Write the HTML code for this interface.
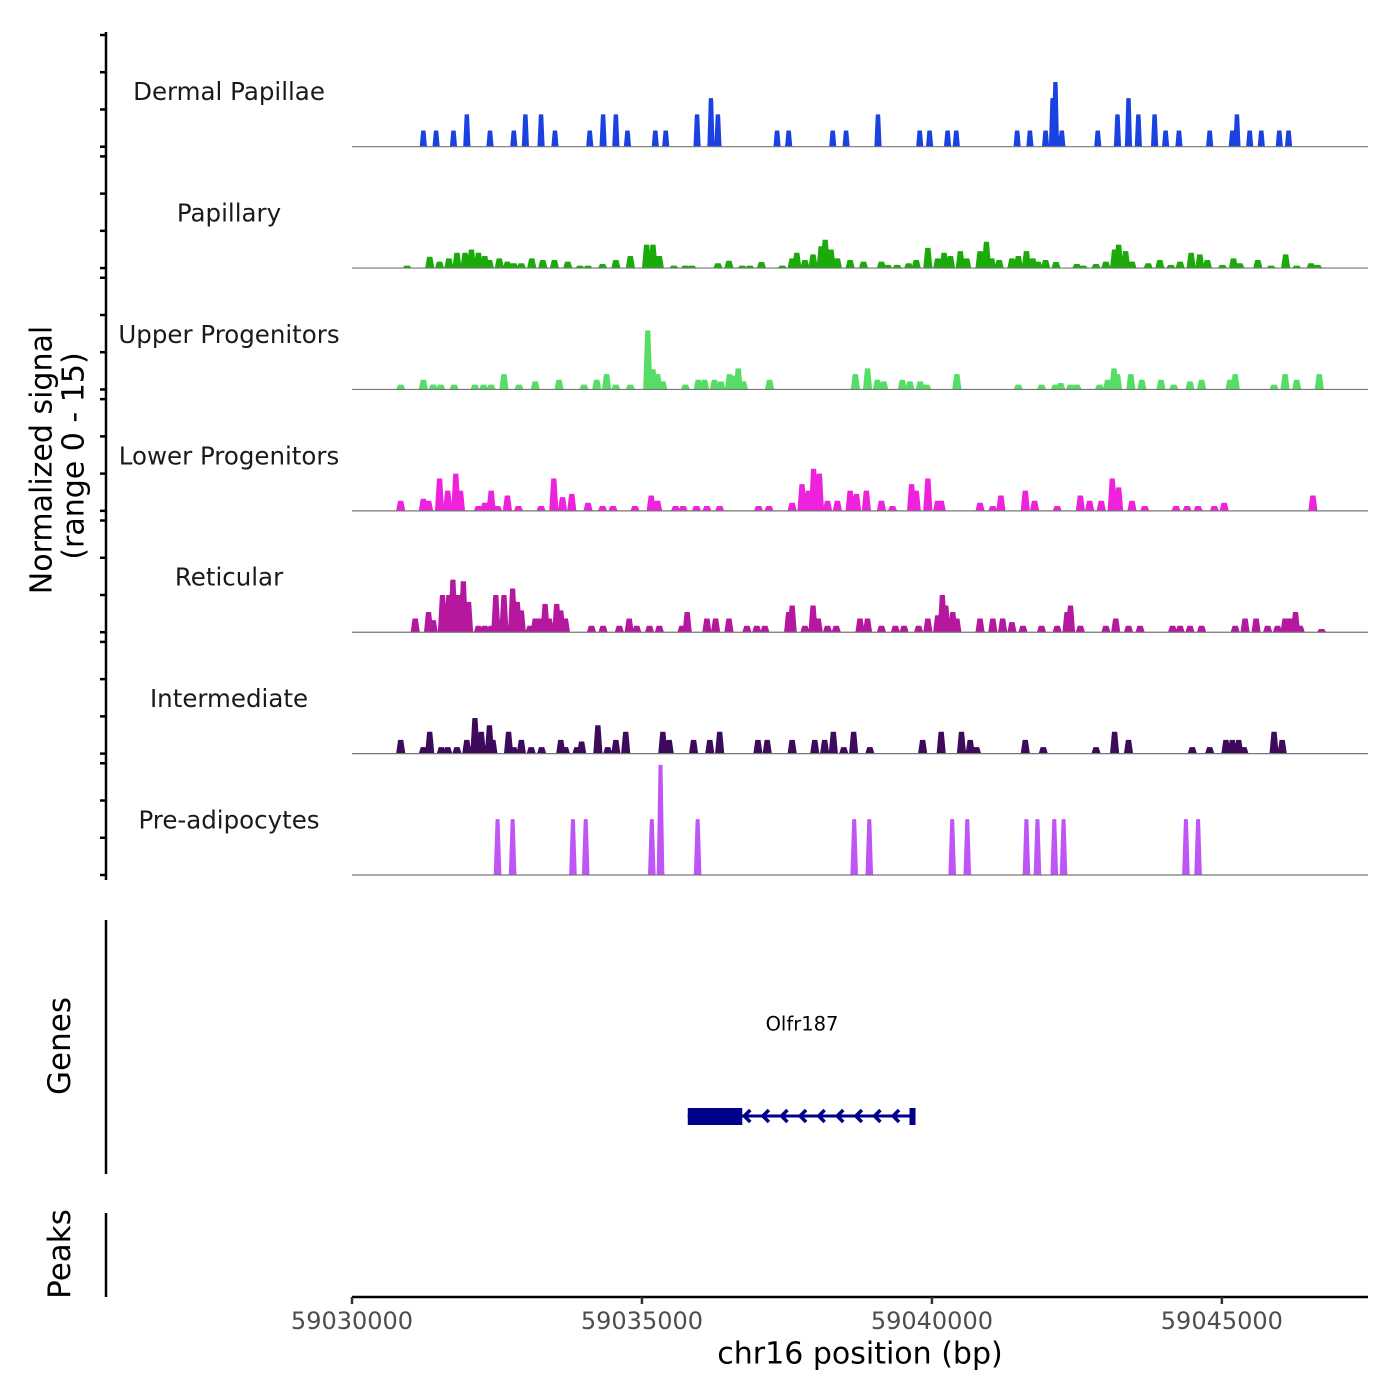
<!DOCTYPE html>
<html><head><meta charset="utf-8">
<style>
html,body{margin:0;padding:0;background:#fff;}
svg{display:block;font-family:"DejaVu Sans","Liberation Sans",sans-serif;}
</style></head>
<body>
<svg id="chart" width="1400" height="1400" viewBox="0 0 1400 1400">
<rect width="1400" height="1400" fill="#fff"/>
<g id="tracks"></g>
<g id="labels"></g>
<g id="yaxis"></g>
<text x="42" y="460" font-size="30" fill="#000" text-anchor="middle" dominant-baseline="central" transform="rotate(-90 42 460)">Normalized signal</text>
<text x="74" y="456" font-size="30" fill="#000" text-anchor="middle" dominant-baseline="central" transform="rotate(-90 74 456)">(range 0 - 15)</text>
<line x1="106" y1="920" x2="106" y2="1174" stroke="#000" stroke-width="2.5"/>
<text x="60" y="1046" font-size="31" text-anchor="middle" dominant-baseline="central" transform="rotate(-90 60 1046)">Genes</text>
<line x1="106" y1="1213" x2="106" y2="1297" stroke="#000" stroke-width="2.5"/>
<text x="60" y="1254" font-size="31" text-anchor="middle" dominant-baseline="central" transform="rotate(-90 60 1254)">Peaks</text>
<g id="gene"></g>
<g id="xaxis"></g>
<text x="860" y="1354" font-size="30" text-anchor="middle" dominant-baseline="central">chr16 position (bp)</text>
</svg>
<script>
const NS="http://www.w3.org/2000/svg";
const xStart=59030000, xEnd=59047520;
const xTicks=[59030000,59035000,59040000,59045000];
const trackNames=["Dermal Papillae","Papillary","Upper Progenitors","Lower Progenitors","Reticular","Intermediate","Pre-adipocytes"];
const trackColors=["#1a42e0","#1aaa0a","#55dd66","#ee22dd","#b5179e","#3d0a5c","#bf55f5"];
// positions in kb offset from 59030000, heights in signal units
const dermalPos=[1.23,1.45,1.75,1.98,2.38,2.79,2.99,3.26,3.50,4.10,4.33,4.55,4.75,5.23,5.41,5.95,6.19,6.31,7.33,7.53,8.29,8.52,9.07,9.79,9.96,10.27,10.42,11.47,11.69,11.96,12.08,12.13,12.24,12.86,13.20,13.39,13.56,13.84,14.03,14.26,14.79,15.18,15.26,15.48,15.68,15.99,16.15];
const dermalVal=[2,2,2,4,2,2,4,4,2,2,4,4,2,2,2,4,6,4,2,2,2,2,4,2,2,2,2,2,2,2,6,8,2,2,4,6,4,4,2,2,2,2,4,2,2,2,2];
const papPos=[0.95,1.34,1.51,1.67,1.81,1.95,2.06,2.18,2.29,2.37,2.54,2.68,2.79,2.92,3.10,3.29,3.49,3.72,3.93,4.07,4.32,4.55,4.80,5.08,5.19,5.30,5.55,5.75,5.86,6.31,6.50,6.73,6.86,7.06,7.42,7.59,7.67,7.81,7.95,8.09,8.16,8.26,8.37,8.59,8.82,9.13,9.24,9.40,9.60,9.73,9.93,10.10,10.21,10.32,10.49,10.60,10.83,10.94,11.03,11.16,11.38,11.49,11.63,11.74,11.83,11.96,12.14,12.50,12.61,12.83,13.00,13.15,13.22,13.34,13.45,13.73,13.93,14.12,14.28,14.47,14.62,14.75,15.01,15.20,15.31,15.62,15.85,16.10,16.29,16.54,16.65];
const papVal=[0.3,1.4,0.8,1.2,1.9,1.9,2.3,1.9,1.5,1.0,1.2,0.8,0.6,0.6,1.2,1.0,1.0,0.8,0.3,0.3,0.5,1.0,1.5,2.9,2.9,1.5,0.3,0.3,0.3,0.6,0.9,0.3,0.3,0.75,0.3,1.2,1.9,1.0,1.7,2.7,3.5,2.3,1.2,1.0,0.8,0.8,0.4,0.4,0.6,1.0,2.5,1.2,1.9,1.5,2.1,1.2,2.1,3.25,1.2,1.0,1.2,1.5,2.1,1.2,0.8,1.0,0.75,0.5,0.3,0.5,0.8,2.3,2.9,2.1,0.8,0.6,1.0,0.4,0.8,1.9,1.7,1.0,0.4,1.2,0.6,1.0,0.3,1.7,0.3,0.6,0.4];
const upPos=[0.84,1.23,1.40,1.53,1.76,2.12,2.27,2.40,2.62,2.88,3.16,3.57,4.00,4.22,4.39,4.55,4.80,5.10,5.19,5.27,5.36,5.75,5.97,6.08,6.25,6.36,6.51,6.58,6.66,6.75,7.20,8.68,8.89,9.06,9.17,9.49,9.62,9.80,9.91,10.43,11.49,11.89,12.13,12.22,12.39,12.50,12.89,13.03,13.14,13.20,13.43,13.62,13.95,14.17,14.45,14.65,15.14,15.23,15.90,16.09,16.29,16.68];
const upVal=[0.6,1.2,0.6,0.6,0.6,0.6,0.6,0.6,1.9,0.6,1.0,1.2,0.6,1.2,1.9,0.6,0.6,7.3,2.5,1.9,1.0,0.6,1.2,1.2,1.2,1.0,1.9,1.7,2.6,1.0,1.2,1.9,2.6,1.2,1.0,1.2,1.0,1.0,0.6,1.9,0.6,0.6,0.6,0.8,0.6,0.6,0.6,1.2,2.6,1.9,1.9,1.2,1.2,0.6,1.0,1.2,1.2,1.9,0.6,1.9,1.2,1.9];
const lowPos=[0.84,1.23,1.32,1.51,1.65,1.79,1.87,2.18,2.29,2.40,2.51,2.68,2.87,3.26,3.48,3.63,3.79,4.07,4.32,4.50,4.88,5.16,5.27,5.58,5.71,5.94,6.12,6.34,7.01,7.19,7.59,7.76,7.87,7.96,8.06,8.20,8.37,8.59,8.70,8.87,9.13,9.32,9.65,9.73,9.93,10.10,10.16,10.83,11.05,11.19,11.61,11.77,12.16,12.56,12.72,12.92,13.11,13.22,13.45,13.67,14.21,14.40,14.59,14.87,15.04,16.57];
const lowVal=[1.25,1.5,1.25,4.0,2.5,4.6,2.5,0.6,1.0,2.5,0.6,1.9,0.6,0.6,4.0,1.7,2.1,1.0,0.6,0.6,0.6,1.9,1.25,0.6,0.6,0.6,0.6,0.6,0.6,0.6,1.0,3.3,2.5,5.2,4.6,1.25,1.25,2.5,2.1,2.5,1.25,0.6,3.3,2.5,4.0,1.25,1.25,1.0,0.6,1.9,2.5,1.25,0.6,1.9,1.25,1.25,4.0,2.9,1.25,0.6,0.6,0.6,0.6,0.6,1.0,1.9];
const retPos=[1.09,1.32,1.40,1.56,1.67,1.74,1.82,1.92,2.01,2.18,2.29,2.40,2.48,2.62,2.77,2.85,2.92,3.07,3.16,3.24,3.33,3.40,3.53,3.60,3.68,4.13,4.33,4.61,4.78,4.91,5.13,5.30,5.69,5.78,6.12,6.27,6.50,6.81,6.98,7.12,7.53,7.59,7.81,7.95,8.04,8.20,8.35,8.76,8.89,9.13,9.37,9.52,9.77,9.93,10.10,10.18,10.24,10.36,10.43,10.83,11.05,11.22,11.38,11.57,11.89,12.16,12.33,12.39,12.56,13.00,13.17,13.39,13.59,14.15,14.28,14.45,14.65,15.23,15.40,15.59,15.79,15.96,16.09,16.18,16.27,16.35,16.72];
const retVal=[1.7,2.5,1.5,4.6,4.6,6.5,4.6,6.3,3.75,0.8,0.8,0.8,4.6,4.6,5.4,3.75,2.7,0.8,1.7,1.7,3.5,1.7,3.5,2.7,1.7,0.8,0.8,0.8,1.7,0.8,0.8,0.8,0.8,2.5,1.7,1.7,1.7,0.8,0.8,0.8,2.5,3.3,0.8,3.3,1.7,0.8,0.8,1.7,1.7,0.8,0.8,0.8,0.8,1.7,2.1,4.6,3.3,2.5,1.7,1.7,1.7,1.7,1.25,0.8,0.8,0.8,2.5,3.3,0.8,0.8,1.7,0.8,0.8,0.8,0.8,0.8,0.8,0.8,1.7,1.7,0.8,0.8,1.7,1.7,2.5,0.8,0.4];
const intPos=[0.84,1.23,1.34,1.54,1.65,1.81,1.98,2.12,2.23,2.37,2.43,2.70,2.79,2.92,3.09,3.27,3.60,3.68,3.88,3.96,4.24,4.41,4.55,4.72,5.36,5.47,5.89,6.17,6.34,7.00,7.16,7.59,7.98,8.15,8.30,8.48,8.65,8.93,9.84,10.16,10.51,10.66,10.77,11.61,11.92,12.83,13.15,13.39,14.49,14.79,15.07,15.18,15.29,15.38,15.90,16.04];
const intVal=[1.7,0.8,2.7,0.8,0.8,0.8,1.7,4.4,2.7,3.5,1.7,2.7,0.8,1.7,0.8,0.8,1.7,0.8,0.8,1.5,3.5,0.8,1.7,2.7,2.7,1.7,1.7,1.7,2.7,1.7,1.7,1.7,1.7,1.7,2.7,0.8,2.7,0.8,1.7,2.7,2.7,1.7,0.8,1.7,0.8,0.8,2.7,1.7,0.8,0.8,1.7,1.7,1.7,0.8,2.7,1.7];
const prePos=[2.51,2.77,3.81,4.03,5.17,5.32,5.96,8.66,8.92,10.35,10.61,11.63,11.82,12.11,12.27,14.38,14.59];
const preVal=[6.9,6.9,6.9,6.9,6.9,13.6,6.9,6.9,6.9,6.9,6.9,6.9,6.9,6.9,6.9,6.9,6.9];
const trackPos=[dermalPos,papPos,upPos,lowPos,retPos,intPos,prePos];
const trackVal=[dermalVal,papVal,upVal,lowVal,retVal,intVal,preVal];
const geneName="Olfr187", geneStart=59035790, geneThickEnd=59036730, geneEnd=59039700;

const X0=352,X1=1368;
function xs(bp){return X0+(bp-xStart)/(xEnd-xStart)*(X1-X0);}
const base0=146.7, step=121.38, yDomain=13.8, trackH=111.7;
function ys(i,v){return base0+i*step - v/yDomain*trackH;}

const tracks=document.getElementById('tracks');
const labels=document.getElementById('labels');
for(let i=0;i<trackNames.length;i++){
  const pos=trackPos[i], val=trackVal[i];
  let hwT=2.6, hwB=4.6;
  if(i===0){hwT=2.2;hwB=3.6;}
  if(i===6){hwT=2;hwB=3.8;}
  const centers=pos.map(p=>xs(xStart+p*1000));
  let dstr="M"+X0+","+ys(i,0);
  for(let x=X0;x<=X1;x+=0.25){
    let v=0;
    for(let k=0;k<centers.length;k++){
      const d=Math.abs(x-centers[k]);
      let f=0;
      if(d<=hwT) f=1; else if(d<hwB) f=(hwB-d)/(hwB-hwT);
      if(val[k]*f>v) v=val[k]*f;
    }
    dstr+="L"+x.toFixed(2)+","+ys(i,v).toFixed(2);
  }
  dstr+="L"+X1+","+ys(i,0)+"Z";
  const path=document.createElementNS(NS,'path');
  path.setAttribute('d',dstr);
  path.setAttribute('fill',trackColors[i]);
  
  
  tracks.appendChild(path);
  const bl=document.createElementNS(NS,'line');
  bl.setAttribute('x1',X0);bl.setAttribute('x2',X1);
  bl.setAttribute('y1',ys(i,0));bl.setAttribute('y2',ys(i,0));
  bl.setAttribute('stroke','#777');bl.setAttribute('stroke-width','1.2');
  
  
  tracks.appendChild(bl);
  const t=document.createElementNS(NS,'text');
  t.setAttribute('x',229);t.setAttribute('y',base0+i*step-55);
  t.setAttribute('text-anchor','middle');t.setAttribute('dominant-baseline','central');
  t.setAttribute('font-size','24.5');t.setAttribute('fill','#1a1a1a');
  t.textContent=trackNames[i];
  
  
  labels.appendChild(t);
}
// y axis
const ya=document.getElementById('yaxis');
let ystr='<line x1="106" y1="32" x2="106" y2="880" stroke="#000" stroke-width="2.5"/>';
for(let i=0;i<7;i++){
  const b=base0+i*step;
  for(let j=0;j<4;j++){const y=b-j*trackH/3;ystr+='<line x1="100" x2="106" y1="'+y+'" y2="'+y+'" stroke="#000" stroke-width="2.5"/>';}
}
ya.innerHTML=ystr;
// gene
const g=document.getElementById('gene');
const gy=1116;
let gs='<line x1="'+xs(geneStart)+'" x2="'+xs(geneEnd)+'" y1="'+gy+'" y2="'+gy+'" stroke="#00008b" stroke-width="3"/>';
gs+='<rect x="'+xs(geneStart)+'" y="1108" width="'+(xs(geneThickEnd)-xs(geneStart))+'" height="17" fill="#00008b"/>';
gs+='<rect x="'+(xs(geneEnd)-5)+'" y="1108" width="6" height="17" fill="#00008b"/>';
for(let a=xs(geneThickEnd)+2;a<xs(geneEnd)-6;a+=18.6){
  gs+='<polyline points="'+(a+6)+','+(gy-6)+' '+a+','+gy+' '+(a+6)+','+(gy+6)+'" fill="none" stroke="#00008b" stroke-width="3.5"/>';
}
gs+='<text x="802" y="1024" font-size="19.5" text-anchor="middle" dominant-baseline="central">'+geneName+'</text>';
g.innerHTML=gs;
// x axis
const xa=document.getElementById('xaxis');
let xsStr='<line x1="352" x2="1368" y1="1297" y2="1297" stroke="#000" stroke-width="2.5"/>';
xTicks.forEach(t=>{const x=xs(t);
  xsStr+='<line x1="'+x+'" x2="'+x+'" y1="1297" y2="1304" stroke="#333" stroke-width="2.5"/>';
  xsStr+='<text x="'+x+'" y="1321" font-size="24" fill="#4d4d4d" text-anchor="middle" dominant-baseline="central">'+t+'</text>';});
xa.innerHTML=xsStr;
</script>
</body></html>
